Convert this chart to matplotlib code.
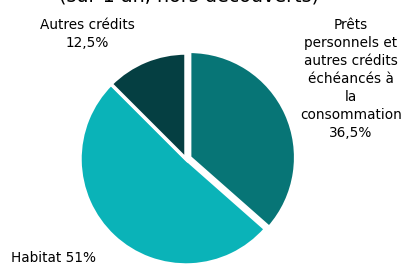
import matplotlib
matplotlib.use("Agg")
import matplotlib.pyplot as plt

labels = ["Prêts\npersonnels et\nautres crédits\néchéancés à\nla\nconsommation\n36,5%",
          "Habitat 51%",
          "Autres crédits\n12,5%"]
shares = [36.5, 51, 12.5]
colors = ["#077576", "#0ab3b8", "#053f42"]
explode = [4, 0, 0]

fig = plt.figure(figsize=(4.06, 2.66), dpi=100)
ax = fig.add_axes([0, 0, 1, 1])

ax.pie(shares, colors=colors, explode=explode, startangle=90, counterclock=False,
       center=(186, 107), radius=106,
       wedgeprops=dict(edgecolor="white", linewidth=2.5))
ax.set_xlim(0, 406)
ax.set_ylim(0, 266)
ax.set_aspect("auto")
ax.axis("off")

fs = 9.8
ax.text(189, 264.5, "(sur 1 an, hors découverts)", ha="center", va="baseline", fontsize=13.8)
ax.text(87, 232, labels[2], ha="center", va="center", fontsize=fs, linespacing=1.35)
ax.text(351, 187, labels[0], ha="center", va="center", fontsize=fs, linespacing=1.35)
ax.text(11, 8, labels[1], ha="left", va="center", fontsize=fs)

fig.savefig("out.png", dpi=100)
